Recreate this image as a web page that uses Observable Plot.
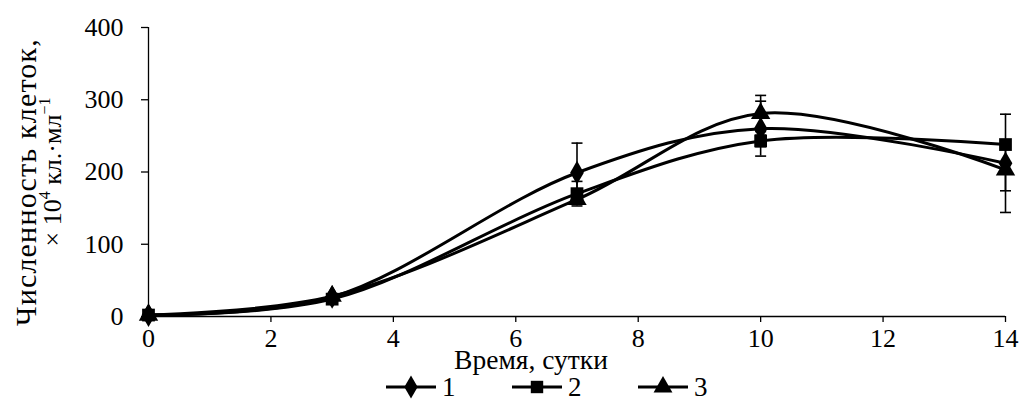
<!DOCTYPE html>
<html><head><meta charset="utf-8">
<script src="https://cdn.jsdelivr.net/npm/d3@7"></script>
<script src="https://cdn.jsdelivr.net/npm/@observablehq/plot@0.6"></script>
<style>
body{margin:0;background:#fff;font-family:'Liberation Serif','Times New Roman',serif;color:#000}
#chart{width:1022px;height:400px;position:relative;overflow:hidden}
#legend{position:relative;height:28px;width:1022px}
.item{position:absolute;top:1px;height:28px;display:flex;align-items:center;font-size:27px;line-height:27px}
.item svg{display:block}
</style></head><body><div id="chart"></div><script>
const days = [0, 3, 7, 10, 14];
const seriesNames = ["1", "2", "3"];
const values1 = [2, 27, 199, 260, 212];
const values2 = [2, 24, 170, 243, 238];
const values3 = [2, 28, 162, 281, 203];
const errors1 = [1, 3, 41, 38, 68];
const errors2 = [1, 3, 17, 8, 5];
const errors3 = [1, 3, 6, 25, 29];
const xTicks = [0, 2, 4, 6, 8, 10, 12, 14];
const yTicks = [0, 100, 200, 300, 400];
const symbols = ["diamond", "square", "triangle"];
const drawOrder = ["3", "1", "2"];

const vals = [values1, values2, values3];
const errs = [errors1, errors2, errors3];
const data = [];
seriesNames.forEach((s, i) => days.forEach((d, j) =>
  data.push({series: s, day: d, value: vals[i][j], lo: vals[i][j] - errs[i][j], hi: vals[i][j] + errs[i][j]})));

const cap = {draw(ctx, size) { const w = Math.sqrt(size / Math.PI); ctx.moveTo(-w, 0); ctx.lineTo(w, 0); }};
const font = "'Liberation Serif', 'Times New Roman', serif";

const plot = Plot.plot({
  width: 1022, height: 372,
  marginLeft: 148, marginRight: 17, marginTop: 27, marginBottom: 56,
  style: {fontFamily: font, fontSize: "26px", color: "#000", background: "#fff", overflow: "visible"},
  x: {domain: [0, 14], label: null},
  y: {domain: [0, 400], label: null},
  symbol: {domain: seriesNames, range: symbols},
  marks: [
    Plot.axisX({ticks: xTicks, tickSize: 6, tickPadding: 6, label: null, strokeOpacity: 1, strokeWidth: 1.3}),
    Plot.axisY({ticks: yTicks, tickSize: 7, tickPadding: 18, label: null, strokeOpacity: 1, strokeWidth: 1.3}),
    Plot.ruleY([0], {stroke: "#000", strokeWidth: 1.3}),
    Plot.ruleX([0], {stroke: "#000", strokeWidth: 1.3}),
    Plot.ruleX(data, {x: "day", y1: "lo", y2: "hi", stroke: "#000", strokeWidth: 1.6}),
    Plot.dot(data, {x: "day", y: "lo", symbol: () => cap, r: 5.5, stroke: "#000", strokeWidth: 1.6, fill: "none"}),
    Plot.dot(data, {x: "day", y: "hi", symbol: () => cap, r: 5.5, stroke: "#000", strokeWidth: 1.6, fill: "none"}),
    Plot.line(data, {x: "day", y: "value", z: "series", curve: "catmull-rom", stroke: "#000", strokeWidth: 3}),
    ...drawOrder.map(s => Plot.dot(data.filter(d => d.series === s), {x: "day", y: "value", symbol: "series", r: 7.2, fill: "#000", stroke: "none"}))
  ]
});

const svg = d3.select(plot);
const g = svg.append("g").attr("font-family", font).attr("fill", "#000");
g.append("text").attr("font-size", 30).attr("letter-spacing", 1.2).attr("transform", "translate(36,182) rotate(-90)").attr("text-anchor", "middle").text("Численность клеток,");
const t2 = g.append("text").attr("font-size", 26).attr("transform", "translate(61,172) rotate(-90)").attr("text-anchor", "middle");
t2.append("tspan").text("× 10");
t2.append("tspan").attr("font-size", 16).attr("dy", -11).text("4");
t2.append("tspan").attr("dy", 11).text(" кл.·мл");
t2.append("tspan").attr("font-size", 16).attr("dy", -11).text("−1");
g.append("text").attr("font-size", 27.5).attr("x", 531).attr("y", 369).attr("text-anchor", "middle").text("Время, сутки");

const chart = document.getElementById("chart");
chart.appendChild(plot);

const legend = document.createElement("div");
legend.id = "legend";
const legendLeft = [386, 512, 638];
const markerPaths = {
  diamond: d3.symbol(d3.symbolDiamond, Math.PI * 49)(),
  square: d3.symbol(d3.symbolSquare, Math.PI * 49)(),
  triangle: d3.symbol(d3.symbolTriangle, Math.PI * 49)()
};
seriesNames.forEach((s, i) => {
  const item = document.createElement("div");
  item.className = "item";
  item.style.left = legendLeft[i] + "px";
  item.innerHTML = `<svg width="50" height="28"><line x1="0" x2="50" y1="14" y2="14" stroke="#000" stroke-width="3"/><path transform="translate(25,14)" d="${markerPaths[symbols[i]]}" fill="#000"/></svg><span style="margin-left:6px">${s}</span>`;
  legend.appendChild(item);
});
chart.appendChild(legend);
</script></body></html>
